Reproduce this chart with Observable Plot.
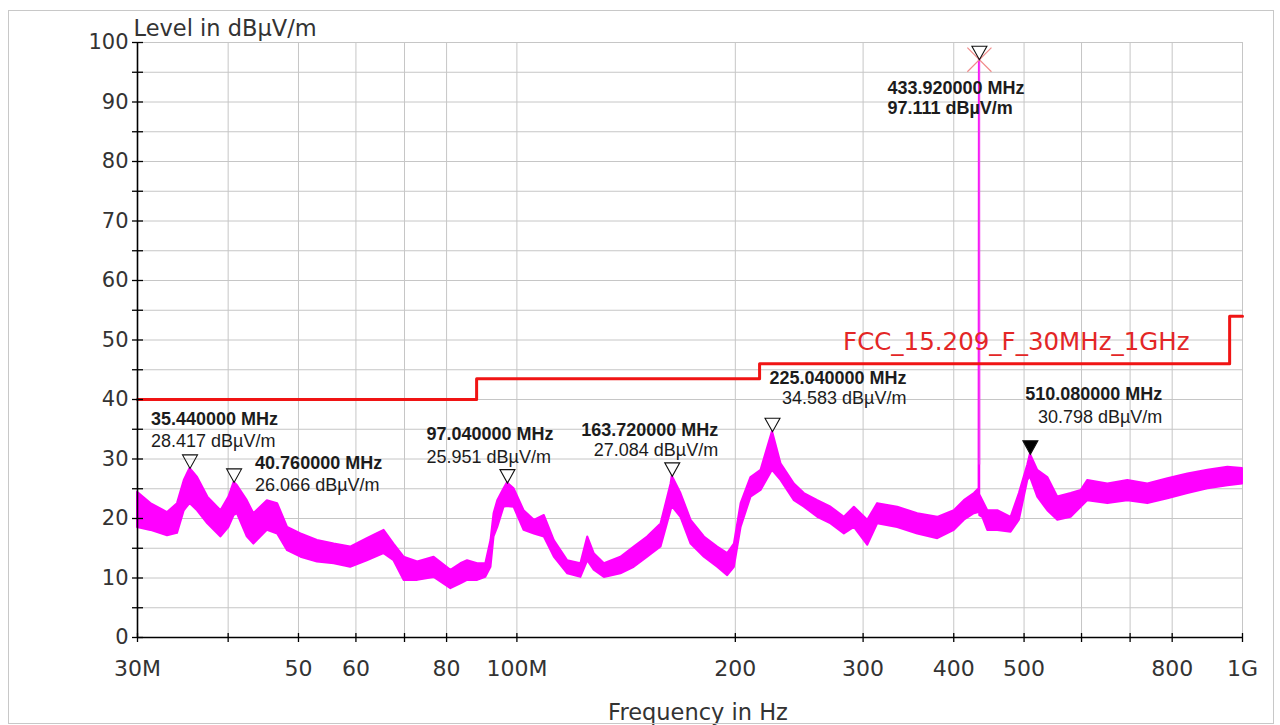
<!DOCTYPE html>
<html>
<head>
<meta charset="utf-8">
<script src="https://cdn.jsdelivr.net/npm/d3@7"></script>
<script src="https://cdn.jsdelivr.net/npm/@observablehq/plot@0.6"></script>
<style>
  html, body { margin: 0; padding: 0; background: #fff; }
  #wrap { position: relative; width: 1280px; height: 725px; overflow: hidden; }
  #border { position: absolute; left: 8px; top: 10px; width: 1264px; height: 712px; border: 1px solid #c8c8c8; pointer-events: none; }
</style>
</head>
<body>
<div id="wrap"><div id="chart"></div><div id="border"></div></div>
<script>
// ---- Data ----
// Spectrum envelope: frequency in MHz, upper and lower edge of the measured trace (dBµV/m)
const freqMHz = [30.0, 31.3, 33.0, 34.06, 34.8, 35.44, 36.3, 37.5, 39.1, 40.1, 40.76, 41.2, 42.5, 43.4, 45.3, 46.8, 48.3, 50.4, 53.1, 56.0, 59.0, 62.2, 65.6, 67.7, 69.9, 73.0, 76.9, 81.1, 83.7, 85.5, 88.3, 90.6, 92.1, 93.0, 94.1, 96.0, 97.04, 99.1, 102.3, 105.7, 109.1, 112.6, 117.5, 122.5, 125.2, 127.8, 132.0, 139.1, 145.1, 151.4, 158.0, 163.1, 163.72, 168.3, 173.8, 181.3, 189.1, 195.2, 199.4, 203.7, 210.2, 217.0, 225.04, 231.2, 241.2, 249.0, 259.8, 271.0, 282.7, 291.8, 304.4, 314.2, 334.8, 356.8, 380.2, 400.7, 413.7, 427.0, 433.5, 433.92, 434.4, 438.6, 445.6, 460.0, 479.8, 492.6, 505.9, 510.08, 522.2, 539.1, 556.5, 580.5, 599.3, 612.1, 652.3, 695.0, 740.6, 789.1, 840.8, 896.0, 954.7, 1000];
const upperDb = [24.4, 22.5, 21.0, 22.5, 26.4, 28.4, 26.9, 23.6, 21.3, 23.6, 26.1, 25.5, 23.0, 20.8, 23.0, 22.5, 18.5, 17.4, 16.3, 15.7, 15.2, 16.6, 18.0, 15.7, 13.5, 12.7, 13.5, 11.3, 12.4, 12.9, 12.4, 12.4, 16.3, 20.8, 23.0, 25.0, 26.0, 25.0, 21.3, 19.7, 20.5, 16.3, 12.9, 12.4, 16.9, 14.1, 12.4, 13.5, 15.2, 16.9, 19.1, 25.8, 27.1, 24.2, 19.7, 16.9, 15.2, 14.1, 15.7, 22.5, 26.9, 28.1, 34.6, 29.2, 25.8, 24.2, 23.0, 21.9, 20.2, 21.9, 19.7, 22.5, 21.9, 20.8, 20.2, 21.3, 23.0, 24.2, 25.0, 97.111, 24.0, 23.0, 21.3, 21.3, 20.2, 24.2, 29.0, 30.8, 28.1, 26.9, 23.6, 24.2, 24.7, 26.4, 25.8, 26.4, 25.8, 26.7, 27.5, 28.1, 28.6, 28.4];
const lowerDb = [18.5, 18.0, 17.1, 17.5, 21.3, 22.5, 21.3, 19.1, 16.9, 18.5, 20.5, 20.8, 16.9, 15.7, 18.0, 17.4, 14.6, 13.5, 12.7, 12.4, 11.8, 12.9, 14.1, 12.9, 9.6, 9.6, 10.1, 8.2, 9.0, 9.6, 9.6, 10.1, 11.8, 16.9, 18.5, 21.9, 22.0, 21.9, 18.0, 17.4, 16.9, 13.5, 10.7, 10.1, 12.9, 11.3, 10.1, 10.7, 11.8, 13.5, 15.2, 21.3, 22.0, 20.2, 15.7, 13.5, 11.8, 10.4, 11.8, 18.5, 23.6, 24.7, 28.1, 26.4, 23.0, 21.9, 20.2, 19.1, 17.4, 18.5, 15.5, 19.1, 18.5, 17.4, 16.6, 18.0, 19.7, 20.8, 21.0, 29.0, 20.5, 20.2, 18.0, 18.0, 17.7, 19.7, 26.4, 27.0, 23.6, 21.3, 19.7, 20.2, 21.9, 23.0, 22.5, 23.0, 22.5, 23.3, 24.2, 25.0, 25.5, 25.8];

// Limit line FCC 15.209 (step after)
const limitName = "FCC_15.209_F_30MHz_1GHz";
const limitFreq = [30, 88, 216, 960, 1000];
const limitLevel = [40, 43.5, 46, 54, 54];

// Peak markers
const markerFreq = [35.44, 40.76, 97.04, 163.72, 225.04, 433.92, 510.08];
const markerLevel = [28.417, 26.066, 25.951, 27.084, 34.583, 97.111, 30.798];
const activeMarker = 510.08;

// Axes
const xDomain = [30, 1000];
const yDomain = [0, 100];
const xTicks = [30, 40, 50, 60, 70, 80, 100, 200, 300, 400, 500, 600, 700, 800, 1000];
const xLabelTicks = [30, 50, 60, 80, 100, 200, 300, 400, 500, 800, 1000];
const xLabelText = ["30M", "50", "60", "80", "100M", "200", "300", "400", "500", "800", "1G"];
const yTicks = [0, 5, 10, 15, 20, 25, 30, 35, 40, 45, 50, 55, 60, 65, 70, 75, 80, 85, 90, 95, 100];
const yTickLabels = [0, 10, 20, 30, 40, 50, 60, 70, 80, 90, 100];
const xTitle = "Frequency in Hz";
const yTitle = "Level in dBµV/m";

// ---- Layout (not data) ----
const W = 1280, H = 725;
const M = {top: 42, right: 38, bottom: 88, left: 137};
const plotW = W - M.left - M.right, plotH = H - M.top - M.bottom;
// label offsets relative to each marker tip
const labelLayout = [
  {anchor: "start", dx: -39, dy1: -49, dy2: -27, bold2: false},
  {anchor: "start", dx: 21, dy1: -19, dy2: 3, bold2: false},
  {anchor: "start", dx: -81, dy1: -49, dy2: -26, bold2: false},
  {anchor: "end", dx: 46, dy1: -46, dy2: -26, bold2: false},
  {anchor: "end", dx: 134, dy1: -53, dy2: -33, bold2: false},
  {anchor: "start", dx: -92, dy1: 29, dy2: 49, bold2: true},
  {anchor: "end", dx: 132, dy1: -60, dy2: -37, bold2: false}
];

const spectrum = freqMHz.map((f, i) => ({f, hi: upperDb[i], lo: lowerDb[i]}));
const limit = limitFreq.map((f, i) => ({f, level: limitLevel[i]}));
const markers = markerFreq.map((f, i) => ({f, level: markerLevel[i]}));
const peak = markers.reduce((a, b) => (b.level > a.level ? b : a));
const xLabels = xLabelTicks.map((t, i) => ({t, label: xLabelText[i]}));
// limit label sits on the 46 dB segment, right-aligned before the 960 MHz step
const limitLabelPos = {f: limitFreq[3], level: limitLevel[2]};

const downTriangle = {
  draw(ctx) {
    ctx.moveTo(-7.5, -13.5);
    ctx.lineTo(7.5, -13.5);
    ctx.lineTo(0, 0);
    ctx.closePath();
  }
};

const LABEL_FONT = "'Liberation Sans', Arial, sans-serif";
const AXIS_FONT = "'DejaVu Sans', sans-serif";
const magenta = "#ff00ff";

const labelMarks = markers.flatMap((d, i) => {
  const L = labelLayout[i];
  const common = {x: "f", y: "level", dx: L.dx, textAnchor: L.anchor, fontFamily: LABEL_FONT, fontSize: 18, fill: "#1c1c1c"};
  return [
    Plot.text([d], {...common, dy: L.dy1, fontWeight: "bold", text: (v) => `${v.f.toFixed(6)} MHz`}),
    Plot.text([d], {...common, dy: L.dy2, fontWeight: L.bold2 ? "bold" : "normal", text: (v) => `${v.level.toFixed(3)} dBµV/m`})
  ];
});

const chart = Plot.plot({
  width: W,
  height: H,
  marginTop: M.top,
  marginRight: M.right,
  marginBottom: M.bottom,
  marginLeft: M.left,
  style: {background: "#fff", fontFamily: AXIS_FONT, color: "#333", overflow: "visible"},
  x: {type: "log", domain: xDomain, axis: null},
  y: {domain: yDomain, axis: null},
  marks: [
    // grid
    Plot.ruleY(yTicks, {stroke: "#c6c6c6", strokeWidth: 1}),
    Plot.ruleX(xTicks, {stroke: "#c6c6c6", strokeWidth: 1}),
    // spectrum band
    Plot.areaY(spectrum, {x: "f", y1: "lo", y2: "hi", fill: magenta, stroke: magenta, strokeWidth: 2}),
    Plot.ruleX(spectrum.filter((d) => d.hi === peak.level), {x: "f", y1: "lo", y2: "hi", stroke: "#f040f0", strokeWidth: 1.6}),
    // limit
    Plot.line(limit, {x: "f", y: "level", curve: "step-after", stroke: "#f01414", strokeWidth: 3}),
    Plot.text([limitLabelPos], {x: "f", y: "level", text: () => limitName, textAnchor: "end", dx: -40, dy: -22, fill: "#e32626", fontSize: 24.5, fontFamily: AXIS_FONT}),
    // axis lines
    Plot.ruleX([xDomain[0]], {stroke: "#000", strokeWidth: 1.6}),
    Plot.ruleY([yDomain[0]], {stroke: "#000", strokeWidth: 1.6}),
    // crossing ticks
    Plot.ruleX(xTicks, {stroke: "#000", strokeWidth: 1.3, insetTop: plotH - 4, insetBottom: -5}),
    Plot.ruleY(yTicks, {stroke: "#000", strokeWidth: 1.3, insetLeft: -5, insetRight: plotW - 6}),
    // tick labels
    Plot.text(xLabels, {x: "t", text: "label", frameAnchor: "bottom", lineAnchor: "middle", dy: 31, fontSize: 22, fill: "#333"}),
    Plot.axisY({ticks: yTickLabels, tickSize: 0, tickPadding: 9, fontSize: 21, label: null, fill: "#333"}),
    // axis titles
    Plot.text([yTitle], {frameAnchor: "top-left", textAnchor: "start", lineAnchor: "middle", dx: -4, dy: -14, fontSize: 22.5, fill: "#333"}),
    Plot.text([xTitle], {frameAnchor: "bottom", lineAnchor: "middle", dx: 8, dy: 75, fontSize: 22.5, fill: "#333"}),
    // marker symbols
    Plot.dot([peak], {x: "f", y: "level", symbol: "times", r: 11, stroke: "#f08a8a", strokeWidth: 1.2}),
    Plot.dot(markers, {x: "f", y: "level", symbol: downTriangle, r: 5, stroke: "#111", strokeWidth: 1.1, fill: (d) => (d.f === activeMarker ? "#000" : "none")}),
    ...labelMarks
  ]
});

document.getElementById("chart").appendChild(chart);
</script>
</body>
</html>
